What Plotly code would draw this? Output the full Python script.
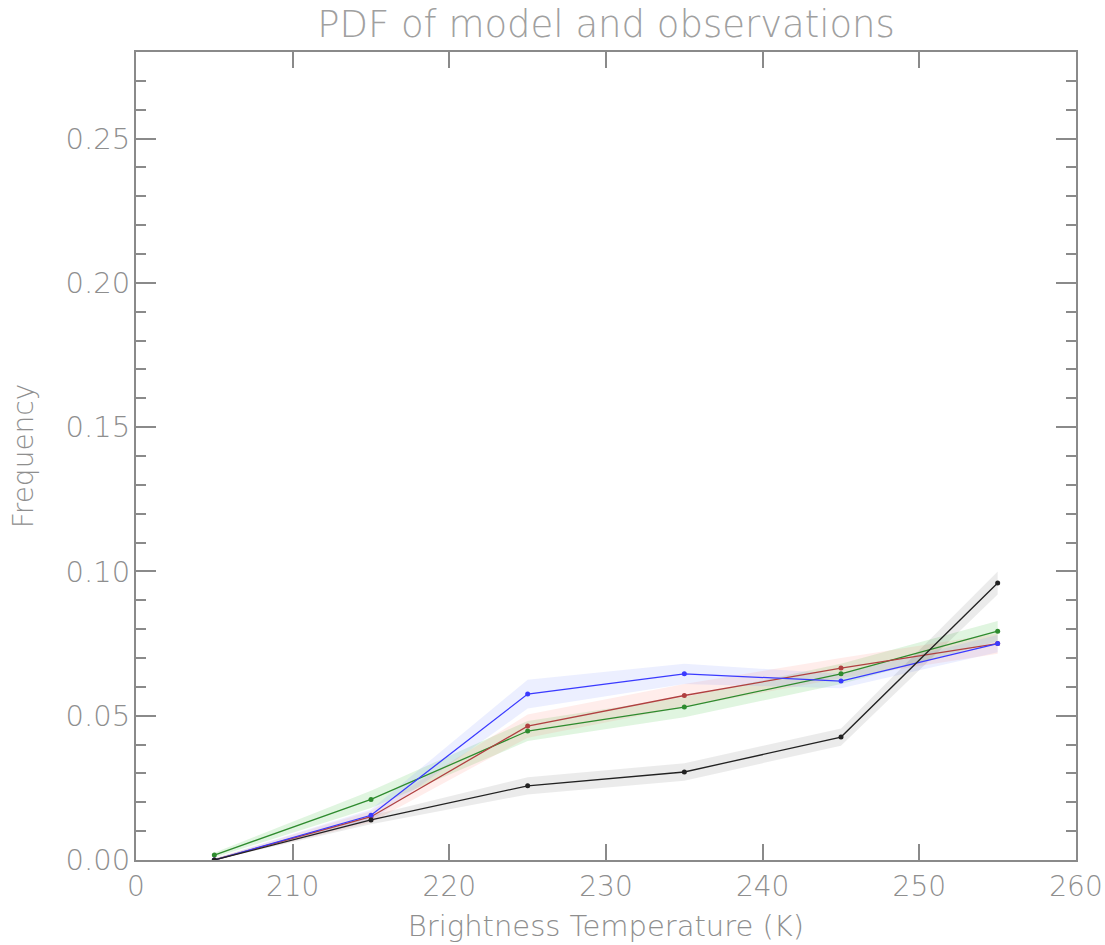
import plotly.graph_objects as go

temps = [205, 215, 225, 235, 245, 255]

obs_black = [0.0, 0.0139, 0.0257, 0.0305, 0.0426, 0.0960]
obs_black_err = [0.0005, 0.0015, 0.0030, 0.0030, 0.0030, 0.0040]

model_blue = [0.0, 0.0155, 0.0575, 0.0645, 0.0620, 0.0750]
model_blue_err = [0.0005, 0.0020, 0.0050, 0.0035, 0.0025, 0.0030]

model_red = [0.0, 0.0150, 0.0464, 0.0570, 0.0665, 0.0750]
model_red_err = [0.0005, 0.0020, 0.0040, 0.0040, 0.0035, 0.0035]

model_green = [0.0017, 0.0210, 0.0447, 0.0530, 0.0645, 0.0793]
model_green_err = [0.0008, 0.0030, 0.0035, 0.0035, 0.0035, 0.0035]

x_tickvals = [200, 210, 220, 230, 240, 250, 260]
x_ticktext = ["0", "210", "220", "230", "240", "250", "260"]
y_tickvals = [0.0, 0.05, 0.10, 0.15, 0.20, 0.25]
y_ticktext = ["0.00", "0.05", "0.10", "0.15", "0.20", "0.25"]

series = [
    (model_green, model_green_err, "#2e8b2e", "rgba(60,190,60,0.16)"),
    (model_red, model_red_err, "#b04040", "rgba(255,130,110,0.14)"),
    (model_blue, model_blue_err, "#3a3aff", "rgba(110,130,255,0.13)"),
    (obs_black, obs_black_err, "#222222", "rgba(0,0,0,0.08)"),
]

fig = go.Figure()
for vals, err, col, fill in series:
    upper = [v + e for v, e in zip(vals, err)]
    lower = [max(v - e, 0) for v, e in zip(vals, err)]
    fig.add_trace(go.Scatter(x=temps + temps[::-1], y=upper + lower[::-1],
                             fill="toself", fillcolor=fill, line=dict(width=0),
                             mode="lines", hoverinfo="skip", showlegend=False))
for vals, err, col, fill in series:
    fig.add_trace(go.Scatter(x=temps, y=vals, mode="lines+markers",
                             line=dict(color=col, width=1.3),
                             marker=dict(color=col, size=5),
                             showlegend=False))

axis_col = "#8a8a8a"
font_col = "#8e8e8e"
fam = "DejaVu Sans"
fig.update_layout(
    width=1105, height=945,
    paper_bgcolor="white", plot_bgcolor="white",
    margin=dict(l=136, r=29, t=52, b=85),
    title=dict(text="PDF of model and observations", x=0.5, xref="paper", xanchor="center",
               y=0.975, yanchor="middle",
               font=dict(family=fam, size=37, color="#a0a0a0", weight=200)),
    font=dict(family=fam, color=font_col, weight=200),
)
fig.update_xaxes(
    range=[200, 260], tickvals=x_tickvals, ticktext=x_ticktext, automargin=False,
    showgrid=False, zeroline=False, showline=True, linecolor=axis_col, linewidth=2,
    mirror="ticks", ticks="inside", ticklen=16, tickwidth=1.5, tickcolor=axis_col,
    tickfont=dict(family=fam, size=28, color=font_col, weight=200),
    title=dict(text="Brightness Temperature (K)",
               font=dict(family=fam, size=29, color=font_col, weight=200), standoff=14),
)
fig.update_yaxes(
    range=[0, 0.28], tickvals=y_tickvals, ticktext=y_ticktext, automargin=False,
    showgrid=False, zeroline=False, showline=True, linecolor=axis_col, linewidth=2,
    mirror="ticks", ticks="inside", ticklen=20, tickwidth=1.5, tickcolor=axis_col,
    ticklabelstandoff=-2,
    tickfont=dict(family=fam, size=29, color=font_col, weight=200),
    minor=dict(ticks="inside", ticklen=10, dtick=0.01, tickwidth=1.5, tickcolor=axis_col, showgrid=False),
    title=dict(text="Frequency", font=dict(family=fam, size=28, color=font_col, weight=200), standoff=24),
)

fig.write_html("out.html")
